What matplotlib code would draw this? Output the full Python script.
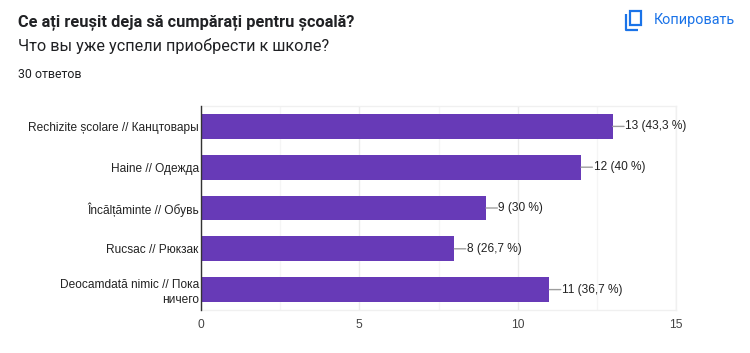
# -*- coding: utf-8 -*-
import matplotlib
matplotlib.use("Agg")
import matplotlib.pyplot as plt
from matplotlib.lines import Line2D
from matplotlib.patches import Rectangle

plt.rcParams['font.family'] = ['Roboto', 'DejaVu Sans']
chart_font = ['Liberation Sans', 'DejaVu Sans']

categories = ["Rechizite școlare // Канцтовары", "Haine // Одежда", "Încălțăminte // Обувь",
              "Rucsac // Рюкзак", "Deocamdată nimic // Пока\nничего"]
counts = [13, 12, 9, 8, 11]
labels = ["13 (43,3 %)", "12 (40 %)", "9 (30 %)", "8 (26,7 %)", "11 (36,7 %)"]
major_ticks = [0, 5, 10, 15]
minor_ticks = [2.5, 7.5, 12.5]

W, H = 750, 353
fig = plt.figure(figsize=(W / 100, H / 100), dpi=100)

# axes placed in pixels from the top left
left, right, top, bottom = 201, 676, 106, 310
ax = fig.add_axes([left / W, 1 - bottom / H, (right - left) / W, (bottom - top) / H])

ax.barh(range(len(counts)), counts, height=0.61, color="#673ab7", zorder=3)
ax.set_xlim(0, 15)
ax.set_ylim(len(counts) - 0.5, -0.5)

ax.set_xticks(major_ticks)
ax.set_xticks(minor_ticks, minor=True)
ax.grid(True, axis="x", which="major", color="#ebebeb", lw=1, zorder=0)
ax.grid(True, axis="x", which="minor", color="#f5f5f5", lw=1, zorder=0)
ax.set_yticks(range(len(counts)))
ax.set_yticklabels(categories, fontsize=8.55, color="#222222", linespacing=1.32, family=chart_font)
ax.set_xticklabels([str(t) for t in major_ticks], fontsize=8.64, color="#444444", family=chart_font)
ax.tick_params(axis="y", which="both", length=0, pad=1.6)
ax.tick_params(axis="x", which="both", length=0, pad=6.5)

for s in ["top", "right", "bottom"]:
    ax.spines[s].set_color("#f0f0f0")
    ax.spines[s].set_linewidth(1)
ax.spines["left"].set_color("#333333")
ax.spines["left"].set_linewidth(1)
ax.spines["left"].set_zorder(5)

# value labels with the short grey connector
for i, (c, lab) in enumerate(zip(counts, labels)):
    ax.annotate("", xy=(c, i), xytext=(8.2, 0), textcoords="offset points",
                arrowprops=dict(arrowstyle="-", color="#9e9e9e", lw=1, shrinkA=0, shrinkB=0))
    ax.annotate(lab, xy=(c, i), xytext=(9, 0), textcoords="offset points",
                va="center", ha="left", fontsize=8.55, color="#222222", family=chart_font)

# header
fig.text(18 / W, 1 - 22 / H, "Ce ați reușit deja să cumpărați pentru școală?", fontsize=11.8,
         fontweight="bold", color="#202124", va="center", ha="left")
fig.text(18 / W, 1 - 46 / H, "Что вы уже успели приобрести к школе?", fontsize=11.7,
         color="#202124", va="center", ha="left")
fig.text(18 / W, 1 - 74 / H, "30 ответов", fontsize=8.9, color="#202124", va="center", ha="left")

# copy button: icon from two outlines, then the word
blue = "#1a73e8"
fig.add_artist(Rectangle((630 / W, 1 - 25 / H), 11 / W, 14 / H, transform=fig.transFigure,
                         fill=False, ec=blue, lw=1.6))
fig.add_artist(Line2D([625.5 / W, 625.5 / W, 638 / W], [1 - 14 / H, 1 - 29.5 / H, 1 - 29.5 / H],
                      color=blue, lw=1.6, solid_capstyle="butt"))
fig.text(653.5 / W, 1 - 20 / H, "Копировать", fontsize=10.4, color=blue, va="center", ha="left")

fig.savefig("out.png", dpi=100)
